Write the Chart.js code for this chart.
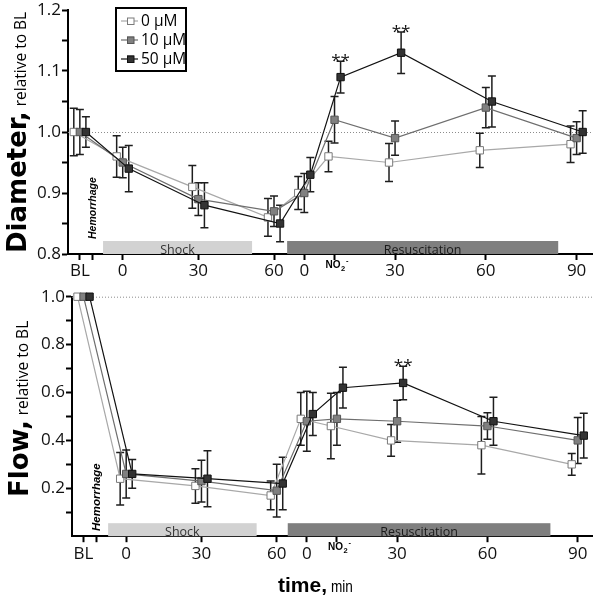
<!DOCTYPE html>
<html><head><meta charset="utf-8">
<script src="https://cdn.jsdelivr.net/npm/chart.js@4/dist/chart.umd.min.js"></script>
<style>
html,body{margin:0;padding:0;background:#fff;width:599px;height:601px;overflow:hidden}
#top{position:absolute;left:0;top:0;width:599px;height:290px}
#bot{position:absolute;left:0;top:280px;width:599px;height:321px}
</style></head><body>
<div id="top"><canvas id="c1"></canvas></div>
<div id="bot"><canvas id="c2"></canvas></div>
<script>
// ---------- data ----------
const timeLabels    = ['BL', '0', '30', '60', '0', 'NO2', '30', '60', '90'];
const timePositions = [-17, 0, 30, 60, 72, 84, 108, 144, 180];   // axis units (shock min / stretched resus min)
const hemorrhagePos = -12;
const seriesNames   = ['0 μM', '10 μM', '50 μM'];

// Diameter, relative to BL
const diam0     = [1.00, 0.96, 0.91, 0.86, 0.90, 0.96, 0.95, 0.97, 0.98];
const diam0Err  = [0.039, 0.034, 0.035, 0.031, 0.027, 0.025, 0.031, 0.028, 0.030];
const diam10    = [1.00, 0.95, 0.89, 0.87, 0.90, 1.02, 0.99, 1.04, 0.99];
const diam10Err = [0.037, 0.025, 0.027, 0.025, 0.032, 0.038, 0.028, 0.033, 0.027];
const diam50    = [1.00, 0.94, 0.88, 0.85, 0.93, 1.09, 1.13, 1.05, 1.00];
const diam50Err = [0.025, 0.038, 0.037, 0.030, 0.028, 0.026, 0.034, 0.042, 0.035];

// Flow, relative to BL
const flow0     = [1.00, 0.24, 0.21, 0.17, 0.49, 0.46, 0.40, 0.38, 0.30];
const flow0Err  = [0, 0.110, 0.072, 0.060, 0.110, 0.137, 0.066, 0.120, 0.045];
const flow10    = [1.00, 0.26, 0.23, 0.19, 0.48, 0.49, 0.48, 0.46, 0.40];
const flow10Err = [0, 0.100, 0.087, 0.110, 0.125, 0.110, 0.088, 0.055, 0.096];
const flow50    = [1.00, 0.26, 0.24, 0.22, 0.51, 0.62, 0.64, 0.48, 0.42];
const flow50Err = [0, 0.060, 0.117, 0.110, 0.090, 0.085, 0.070, 0.100, 0.093];

// significance (** on 50 μM series, by time index)
const diamSigIdx = [5, 6];
const flowSigIdx = [6];

// y tick values
const diamTicks = [0.8, 0.85, 0.9, 0.95, 1.0, 1.05, 1.1, 1.15, 1.2];
const flowTicks = [0.1, 0.2, 0.3, 0.4, 0.5, 0.6, 0.7, 0.8, 0.9, 1.0];

// phase bars [start, end] in axis units
const diamShock = [-7.8, 51.3], diamResus = [65.2, 172.7];
const flowShock = [-7.2, 52.0], flowResus = [64.4, 169.1];

// ---------- styles ----------
const dodge        = [-2.4, 0, 2.4];
const lineColors   = ['#a8a8a8', '#6e6e6e', '#111111'];
const fillColors   = ['#ffffff', '#808080', '#333333'];
const pointBorders = ['#7a7a7a', '#555555', '#111111'];

const tickList = timePositions.map((p, i) => ({ v: p, label: timeLabels[i] === 'NO2' ? '' : timeLabels[i] }));
tickList.splice(1, 0, { v: hemorrhagePos, label: '' });

function makeDatasets(vals, errs) {
  return seriesNames.map((name, i) => ({
    label: name,
    data: timePositions.map((p, j) => ({ x: p + dodge[i], y: vals[i][j] })),
    errors: errs[i],
    borderColor: lineColors[i],
    backgroundColor: fillColors[i],
    pointBackgroundColor: fillColors[i],
    pointBorderColor: pointBorders[i],
    borderWidth: 1.2,
    pointStyle: 'rect',
    pointRadius: 5.2,
    pointHoverRadius: 5.2,
    pointBorderWidth: 1,
    tension: 0,
    order: 3 - i,
    clip: false
  }));
}

const decor = {
  id: 'decor',
  beforeDatasetsDraw(chart, args, o) {
    const ctx = chart.ctx, a = chart.chartArea, xs = chart.scales.x, ys = chart.scales.y;
    ctx.save();
    // reference dotted line
    const yr = ys.getPixelForValue(o.refLine);
    ctx.strokeStyle = '#8c8c8c'; ctx.lineWidth = 1; ctx.setLineDash([1, 2]);
    ctx.beginPath(); ctx.moveTo(a.left, yr + 0.5); ctx.lineTo(a.right, yr + 0.5); ctx.stroke();
    ctx.setLineDash([]);
    // phase bars
    const barH = 13;
    o.phases.forEach(ph => {
      const x0 = xs.getPixelForValue(ph.range[0]), x1 = xs.getPixelForValue(ph.range[1]);
      ctx.fillStyle = ph.color;
      ctx.fillRect(x0, a.bottom - barH, x1 - x0, barH);
      ctx.fillStyle = ph.textColor;
      ctx.font = '12.5px "Open Sans"';
      ctx.textAlign = 'center'; ctx.textBaseline = 'alphabetic';
      ctx.fillText(ph.text, (x0 + x1) / 2, a.bottom - 0.5);
    });
    // error bars
    ctx.strokeStyle = '#1e1e1e'; ctx.lineWidth = 1.5;
    chart.data.datasets.forEach((ds, i) => {
      const meta = chart.getDatasetMeta(i);
      meta.data.forEach((pt, j) => {
        const e = ds.errors[j];
        if (!e) return;
        const v = ds.data[j].y;
        const yt = ys.getPixelForValue(v + e), yb = ys.getPixelForValue(v - e);
        ctx.beginPath();
        ctx.moveTo(pt.x, yt); ctx.lineTo(pt.x, yb);
        ctx.moveTo(pt.x - 4, yt); ctx.lineTo(pt.x + 4, yt);
        ctx.moveTo(pt.x - 4, yb); ctx.lineTo(pt.x + 4, yb);
        ctx.stroke();
      });
    });
    ctx.restore();
  },
  afterDraw(chart, args, o) {
    const ctx = chart.ctx, a = chart.chartArea, xs = chart.scales.x, ys = chart.scales.y;
    ctx.save();
    // significance
    ctx.fillStyle = '#111'; ctx.font = '17px "Open Sans"'; ctx.textAlign = 'center'; ctx.textBaseline = 'alphabetic';
    const ds50 = chart.data.datasets[2], m50 = chart.getDatasetMeta(2);
    o.sig.forEach(j => {
      const yt = ys.getPixelForValue(ds50.data[j].y + ds50.errors[j]);
      ctx.fillText('**', m50.data[j].x, yt + 5);
    });
    // y title
    ctx.save();
    ctx.translate(o.titleX, o.titleY); ctx.rotate(-Math.PI / 2);
    ctx.textAlign = 'left'; ctx.textBaseline = 'alphabetic'; ctx.fillStyle = '#000';
    ctx.font = 'bold 26px "DejaVu Sans"';
    ctx.fillText(o.titleBold, 0, 0);
    const w = ctx.measureText(o.titleBold).width;
    ctx.font = '15.5px "Open Sans"';
    ctx.fillText(o.titleNorm, w + 5, 0);
    ctx.restore();
    // hemorrhage
    ctx.save();
    ctx.translate(xs.getPixelForValue(hemorrhagePos) + 4, o.hemY); ctx.rotate(-Math.PI / 2);
    ctx.textAlign = 'left'; ctx.textBaseline = 'alphabetic'; ctx.fillStyle = '#000';
    ctx.font = 'bold italic ' + o.hemSize + 'px "Liberation Sans"';
    ctx.fillText('Hemorrhage', 0, 0);
    ctx.restore();
    // NO2- tick label
    const nx = xs.getPixelForValue(timePositions[timeLabels.indexOf('NO2')]);
    const by = a.bottom + 14;
    ctx.fillStyle = '#000'; ctx.textAlign = 'left';
    ctx.font = 'bold 10px "Liberation Sans"';
    const wNO = ctx.measureText('NO').width;
    const x0 = nx - 9;
    ctx.fillText('NO', x0, by);
    ctx.font = 'bold 7.5px "Liberation Sans"';
    ctx.fillText('2', x0 + wNO + 0.5, by + 3);
    ctx.fillText('-', x0 + wNO + 5.5, by - 5);
    // legend
    if (o.legend) {
      ctx.strokeStyle = '#000'; ctx.lineWidth = 2;
      ctx.strokeRect(116, 8, 70, 63);
      const rows = [21, 40, 59];
      chart.data.datasets.forEach((ds, i) => {
        const y = rows[i];
        ctx.strokeStyle = ds.borderColor; ctx.lineWidth = 1.2;
        ctx.beginPath(); ctx.moveTo(121, y); ctx.lineTo(138, y); ctx.stroke();
        ctx.fillStyle = ds.pointBackgroundColor; ctx.strokeStyle = ds.pointBorderColor; ctx.lineWidth = 1;
        ctx.fillRect(127, y - 3.5, 7, 7); ctx.strokeRect(127.5, y - 3, 6.5, 6.5);
        ctx.fillStyle = '#000'; ctx.font = '15.5px "Open Sans"'; ctx.textBaseline = 'middle'; ctx.textAlign = 'left';
        ctx.fillText(ds.label, 141, y + 0.5);
      });
    }
    // x title
    if (o.xTitle) {
      ctx.textBaseline = 'alphabetic'; ctx.textAlign = 'left'; ctx.fillStyle = '#000';
      ctx.font = 'bold 21px "Liberation Sans"';
      ctx.fillText('time,', 278, o.xTitleY);
      const tw = ctx.measureText('time,').width;
      ctx.save();
      ctx.translate(278 + tw + 4, o.xTitleY);
      ctx.scale(0.8, 1);
      ctx.font = '17px "Liberation Sans"';
      ctx.fillText('min', 0, 0);
      ctx.restore();
    }
    ctx.restore();
  }
};

function xScale(min, max, h) {
  return {
    type: 'linear', min, max,
    afterBuildTicks: s => { s.ticks = tickList.map(t => ({ value: t.v })); },
    ticks: { autoSkip: false, maxRotation: 0, color: '#111', padding: 3,
      font: { family: 'Open Sans', size: 17, lineHeight: 1 },
      callback: (v, i) => tickList[i] ? tickList[i].label : '' },
    grid: { drawOnChartArea: false, drawTicks: true, tickLength: 6, tickColor: '#000', tickWidth: 2 },
    border: { color: '#000', width: 2 },
    afterFit: s => { s.height = h; }
  };
}
function yScale(min, max, ticksArr, w, labelTest) {
  return {
    type: 'linear', min, max,
    afterBuildTicks: s => { s.ticks = ticksArr.map(v => ({ value: v })); },
    ticks: { autoSkip: false, color: '#111', padding: 1,
      font: { family: 'Open Sans', size: 17, lineHeight: 1 },
      callback: v => labelTest(v) ? v.toFixed(1) : '' },
    grid: { drawOnChartArea: false, drawTicks: true, tickLength: 6, tickColor: '#000', tickWidth: 2 },
    border: { color: '#000', width: 2 },
    afterFit: s => { s.width = w; }
  };
}
const isTenth = v => Math.abs(v * 10 - Math.round(v * 10)) < 1e-6;
const isFifth = v => Math.abs(v * 5 - Math.round(v * 5)) < 1e-6;

Chart.defaults.font.family = 'Open Sans';

new Chart(document.getElementById('c1'), {
  type: 'line',
  data: { datasets: makeDatasets([diam0, diam10, diam50], [diam0Err, diam10Err, diam50Err]) },
  options: {
    responsive: true, maintainAspectRatio: false, animation: false, devicePixelRatio: 1, events: [],
    layout: { padding: { top: 10, right: 7, left: 0, bottom: 0 } },
    scales: { x: xScale(-21.7, 186.1, 36), y: yScale(0.8, 1.2, diamTicks, 68, isTenth) },
    plugins: {
      legend: { display: false }, tooltip: { enabled: false },
      decor: { refLine: 1.0, sig: diamSigIdx,
        phases: [ { range: diamShock, color: '#d2d2d2', textColor: '#333', text: 'Shock' },
                  { range: diamResus, color: '#7f7f7f', textColor: '#1a1a1a', text: 'Resuscitation' } ],
        titleBold: 'Diameter,', titleNorm: 'relative to BL', titleX: 25.5, titleY: 253,
        hemY: 239, hemSize: 10.5, legend: true, xTitle: false }
    }
  },
  plugins: [decor]
});

new Chart(document.getElementById('c2'), {
  type: 'line',
  data: { datasets: makeDatasets([flow0, flow10, flow50], [flow0Err, flow10Err, flow50Err]) },
  options: {
    responsive: true, maintainAspectRatio: false, animation: false, devicePixelRatio: 1, events: [],
    layout: { padding: { top: 16.7, right: 6, left: 0, bottom: 0 } },
    scales: { x: xScale(-21.6, 186, 64.8), y: yScale(0, 1.0, flowTicks, 72, isFifth) },
    plugins: {
      legend: { display: false }, tooltip: { enabled: false },
      decor: { refLine: 1.0, sig: flowSigIdx,
        phases: [ { range: flowShock, color: '#d2d2d2', textColor: '#333', text: 'Shock' },
                  { range: flowResus, color: '#7f7f7f', textColor: '#1a1a1a', text: 'Resuscitation' } ],
        titleBold: 'Flow,', titleNorm: 'relative to BL', titleX: 28, titleY: 217,
        hemY: 251, hemSize: 11.5, legend: false, xTitle: true, xTitleY: 312 }
    }
  },
  plugins: [decor]
});
</script>
</body></html>
